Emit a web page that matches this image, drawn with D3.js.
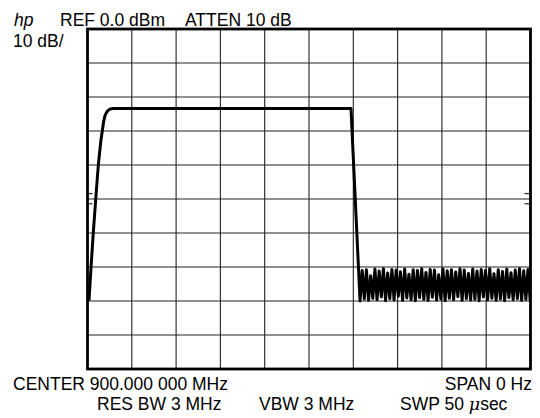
<!DOCTYPE html>
<html>
<head>
<meta charset="utf-8">
<script src="https://cdn.jsdelivr.net/npm/d3@7"></script>
<style>
  html, body { margin: 0; padding: 0; background: #fff; }
  svg { display: block; }
</style>
</head>
<body>
<div id="chart"></div>
<script>
// sweep: 0..50 usec over 10 divisions, ref level 0 dBm, 10 dB/div
const sweepTime = 50;
const refLevel = 0;
const dbPerDiv = 10;
const xDivs = 10;
const yDivs = 10;

// rising edge + flat top + falling edge  [time usec, dBm]
const edgeTrace = [
  [0.17, -79.9], [0.40, -70.0], [0.65, -60.0], [0.93, -50.0], [1.22, -40.0],
  [1.52, -32.6], [1.67, -30.0], [1.81, -27.4], [1.98, -25.4], [2.20, -24.3],
  [2.48, -23.6], [2.88, -23.4], [29.74, -23.4], [30.76, -80.0]
];

// noise floor after the burst, one value per trace step
const noiseStart = 30.76;
const noiseStep = 0.24;
const noiseDb = [
  -71.0, -79.4, -70.8, -79.8, -72.6, -79.2, -70.6, -79.6, -71.2, -78.8,
  -70.5, -79.9, -71.8, -79.3, -70.7, -79.7, -70.9, -78.6, -71.4, -79.8,
  -70.6, -79.1, -72.1, -79.6, -70.8, -79.9, -71.0, -79.0, -70.5, -79.5,
  -71.6, -79.8, -70.7, -78.9, -70.9, -79.7, -72.3, -79.4, -70.6, -79.9,
  -71.1, -79.2, -70.8, -79.6, -71.5, -78.7, -70.5, -79.8, -70.9, -79.3,
  -71.9, -79.7, -70.6, -79.5, -71.2, -79.9, -70.7, -78.8, -71.0, -79.6,
  -70.5, -79.2, -72.0, -79.8, -70.8, -79.4, -71.3, -79.9, -70.6, -79.0,
  -71.7, -79.6, -70.9, -79.3, -70.5, -79.8, -71.1, -79.5, -70.7, -79.9
];

// center-screen marks on both side borders
const centerMarks = [-48.4, -51.4];

const headerLabels = [
  { text: 'REF 0.0 dBm', x: 60, y: 25.5 },
  { text: 'ATTEN 10 dB', x: 185, y: 25.5 },
  { text: '10 dB/', x: 13, y: 47 },
  { text: 'CENTER 900.000 000 MHz', x: 13, y: 390 },
  { text: 'RES BW 3 MHz', x: 97, y: 410 },
  { text: 'VBW 3 MHz', x: 259, y: 410 }
];

const width = 540;
const height = 418;
const plot = { left: 87.5, right: 530.5, top: 29, bottom: 369 };

const x = d3.scaleLinear().domain([0, sweepTime]).range([plot.left, plot.right]);
const y = d3.scaleLinear()
  .domain([refLevel, refLevel - dbPerDiv * yDivs])
  .range([plot.top, plot.bottom]);

const svg = d3.select('#chart')
  .append('svg')
  .attr('width', width)
  .attr('height', height)
  .attr('font-family', '"Liberation Sans", Arial, sans-serif')
  .attr('font-size', '17.5px');

// graticule
const grid = svg.append('g').attr('stroke', '#222').attr('stroke-width', 1.1);
grid.selectAll('line.v')
  .data(d3.range(1, xDivs).map(i => sweepTime / xDivs * i))
  .join('line')
    .attr('class', 'v')
    .attr('x1', d => x(d)).attr('x2', d => x(d))
    .attr('y1', plot.top).attr('y2', plot.bottom);
grid.selectAll('line.h')
  .data(d3.range(1, yDivs).map(i => refLevel - dbPerDiv * i))
  .join('line')
    .attr('class', 'h')
    .attr('y1', d => y(d)).attr('y2', d => y(d))
    .attr('x1', plot.left).attr('x2', plot.right);

// center marks
const marks = svg.append('g').attr('stroke', '#222').attr('stroke-width', 1.2);
marks.selectAll('line.l')
  .data(centerMarks)
  .join('line')
    .attr('class', 'l')
    .attr('x1', plot.left).attr('x2', plot.left + 5)
    .attr('y1', d => y(d)).attr('y2', d => y(d));
marks.selectAll('line.r')
  .data(centerMarks)
  .join('line')
    .attr('class', 'r')
    .attr('x1', plot.right - 6).attr('x2', plot.right)
    .attr('y1', d => y(d)).attr('y2', d => y(d));

// trace
const trace = edgeTrace.concat(noiseDb.map((v, i) => [noiseStart + noiseStep * (i + 1), v]));

svg.append('clipPath').attr('id', 'clip')
  .append('rect')
    .attr('x', plot.left).attr('y', plot.top)
    .attr('width', plot.right - plot.left).attr('height', plot.bottom - plot.top);

svg.append('path')
  .datum(trace)
  .attr('clip-path', 'url(#clip)')
  .attr('fill', 'none')
  .attr('stroke', '#000')
  .attr('stroke-width', 3)
  .attr('stroke-linejoin', 'round')
  .attr('d', d3.line().x(d => x(d[0])).y(d => y(d[1])));

// border
svg.append('rect')
  .attr('x', plot.left).attr('y', plot.top)
  .attr('width', plot.right - plot.left).attr('height', plot.bottom - plot.top)
  .attr('fill', 'none')
  .attr('stroke', '#000')
  .attr('stroke-width', 2.8);

// annotations
svg.append('text')
  .attr('x', 14).attr('y', 25.5)
  .attr('font-style', 'italic')
  .text('hp');

svg.selectAll('text.lbl')
  .data(headerLabels)
  .join('text')
    .attr('class', 'lbl')
    .attr('x', d => d.x).attr('y', d => d.y)
    .text(d => d.text);

svg.append('text')
  .attr('x', 532).attr('y', 390)
  .attr('text-anchor', 'end')
  .text('SPAN 0 Hz');

const swp = svg.append('text').attr('x', 400).attr('y', 410);
swp.append('tspan').text('SWP 50 ');
swp.append('tspan').attr('font-style', 'italic').attr('font-family', '"DejaVu Serif", serif').text('\u03bc');
swp.append('tspan').text('sec');
</script>
</body>
</html>
